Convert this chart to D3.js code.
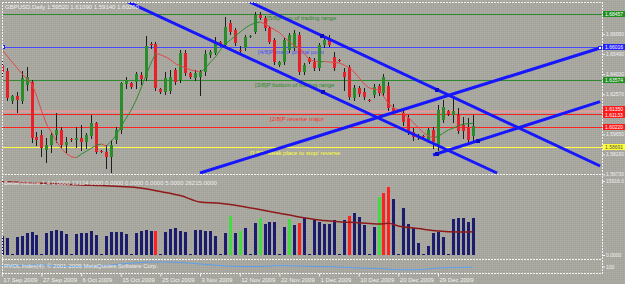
<!DOCTYPE html>
<html><head><meta charset="utf-8">
<script src="https://cdn.jsdelivr.net/npm/d3@7/dist/d3.min.js"></script>
<style>
html,body{margin:0;padding:0;background:#a8a8a0;overflow:hidden}
svg{display:block}
text{font-family:"Liberation Sans",Arial,sans-serif}
</style></head><body>
<svg id="chart" width="625" height="284"></svg>
<script>
// ---------------- data (GBPUSD Daily) ----------------
const opens=[1.6470,1.6427,1.6208,1.6244,1.6208,1.6325,1.6346,1.5946,1.5960,1.5851,
1.5887,1.5960,1.5997,1.5887,1.5931,1.5924,1.5938,1.5909,1.5953,1.6048,
1.5843,1.5836,1.5800,1.5924,1.5997,1.6332,1.6339,1.6346,1.6397,1.6376,
1.6623,1.6623,1.6295,1.6274,1.6281,1.6434,1.6361,1.6558,1.6412,1.6376,
1.6383,1.6419,1.6543,1.6558,1.6638,1.6616,1.6777,1.6726,1.6580,1.6594,
1.6682,1.6711,1.6835,1.6813,1.6740,1.6653,1.6470,1.6492,1.6580,1.6594,
1.6689,1.6419,1.6521,1.6492,1.6448,1.6616,1.6653,1.6529,1.6507,1.6419,
1.6456,1.6230,1.6303,1.6274,1.6215,1.6252,1.6317,1.6266,1.6317,1.6157,
1.6142,1.6120,1.6084,1.5982,1.5953,1.5953,1.5924,1.5997,1.5887,1.6069,
1.6135,1.6106,1.6106,1.6033,1.6018,1.5952];
const highs=[1.6507,1.6448,1.6252,1.6274,1.6427,1.6456,1.6361,1.5982,1.5997,1.5938,
1.5982,1.6120,1.6018,1.5946,1.5938,1.6018,1.6033,1.5975,1.6106,1.6055,
1.5851,1.5887,1.5924,1.6018,1.6346,1.6383,1.6346,1.6419,1.6419,1.6682,
1.6638,1.6638,1.6303,1.6419,1.6434,1.6448,1.6580,1.6580,1.6419,1.6434,
1.6434,1.6580,1.6580,1.6674,1.6645,1.6820,1.6798,1.6740,1.6609,1.6689,
1.6689,1.6857,1.6857,1.6828,1.6755,1.6667,1.6500,1.6667,1.6704,1.6726,
1.6711,1.6485,1.6529,1.6521,1.6631,1.6667,1.6689,1.6565,1.6514,1.6448,
1.6470,1.6325,1.6317,1.6303,1.6222,1.6332,1.6332,1.6405,1.6346,1.6186,
1.6150,1.6157,1.6106,1.6011,1.5967,1.5960,1.6011,1.6018,1.6179,1.6215,
1.6142,1.6237,1.6157,1.6091,1.6084,1.6109];
const lows=[1.6390,1.6215,1.6193,1.6128,1.6193,1.6288,1.5909,1.5887,1.5807,1.5763,
1.5836,1.5909,1.5865,1.5836,1.5916,1.5873,1.5851,1.5865,1.5938,1.5829,
1.5836,1.5720,1.5690,1.5902,1.5975,1.6303,1.6303,1.6303,1.6332,1.6361,
1.6594,1.6288,1.6266,1.6259,1.6266,1.6332,1.6346,1.6397,1.6376,1.6361,
1.6252,1.6397,1.6529,1.6551,1.6609,1.6602,1.6696,1.6616,1.6558,1.6580,
1.6674,1.6704,1.6806,1.6726,1.6631,1.6478,1.6463,1.6478,1.6565,1.6580,
1.6405,1.6405,1.6485,1.6434,1.6434,1.6602,1.6609,1.6434,1.6500,1.6288,
1.6222,1.6215,1.6244,1.6222,1.6208,1.6237,1.6252,1.6252,1.6142,1.6128,
1.6135,1.6033,1.5967,1.5924,1.5931,1.5938,1.5909,1.5865,1.5851,1.6055,
1.6106,1.6055,1.5975,1.5938,1.5909,1.5914];
const closes=[1.6419,1.6230,1.6244,1.6215,1.6376,1.6383,1.5938,1.5924,1.5865,1.5887,
1.5960,1.5997,1.5887,1.5909,1.5924,1.5938,1.5909,1.5960,1.6048,1.5836,
1.5840,1.5800,1.5887,1.5997,1.6339,1.6361,1.6310,1.6405,1.6368,1.6609,
1.6616,1.6303,1.6274,1.6376,1.6383,1.6346,1.6558,1.6412,1.6383,1.6412,
1.6419,1.6551,1.6565,1.6638,1.6616,1.6747,1.6711,1.6631,1.6577,1.6674,
1.6685,1.6835,1.6813,1.6740,1.6638,1.6492,1.6492,1.6653,1.6689,1.6704,
1.6419,1.6470,1.6492,1.6448,1.6616,1.6653,1.6616,1.6448,1.6505,1.6383,
1.6237,1.6303,1.6259,1.6237,1.6213,1.6310,1.6266,1.6383,1.6157,1.6135,
1.6140,1.6055,1.5982,1.5946,1.5946,1.5950,1.5997,1.5909,1.6142,1.6164,
1.6113,1.6135,1.5989,1.5989,1.5924,1.6026];
// colour-coded moving average on price
const maValues=[1.6580,1.6536,1.6492,1.6448,1.6405,1.6368,1.6332,1.6237,1.6128,1.6033,
1.5975,1.5909,1.5858,1.5822,1.5800,1.5796,1.5822,1.5843,1.5865,1.5887,
1.5894,1.5880,1.5916,1.5960,1.6026,1.6084,1.6142,1.6215,1.6303,1.6397,
1.6485,1.6558,1.6543,1.6529,1.6507,1.6478,1.6463,1.6448,1.6434,1.6427,
1.6419,1.6448,1.6492,1.6529,1.6580,1.6623,1.6653,1.6682,1.6711,1.6740,
1.6762,1.6777,1.6784,1.6769,1.6747,1.6726,1.6704,1.6667,1.6638,1.6609,
1.6594,1.6551,1.6507,1.6500,1.6492,1.6496,1.6492,1.6489,1.6485,1.6470,
1.6448,1.6419,1.6376,1.6332,1.6303,1.6295,1.6288,1.6237,1.6186,1.6157,
1.6142,1.6113,1.6084,1.6048,1.6011,1.5975,1.5953,1.5938,1.5953,1.5975,
1.5997,1.6011,1.6026,1.6040,1.6043,1.6045];
// volume
const volumes=[4150,3720,200,3935,4085,4795,4880,4300,300,4665,
5160,5375,5160,4515,200,4515,4795,4795,5225,4300,
200,4085,5010,5010,5010,4515,200,4665,5095,5440,
5095,5095,200,5010,5525,5740,5160,4880,200,5440,
5375,5160,5160,4085,200,4795,8385,4665,5160,5800,
200,6945,8020,6665,7030,7160,200,5955,7675,6450,
6815,7890,200,7525,7160,6665,6665,7525,200,7525,
8385,9095,8235,6450,200,5955,12535,13265,14685,11975,
200,10040,6600,5740,2645,200,2000,4665,5010,3935,
200,7740,7890,7890,7160,7890];
const volGreenBars=[46,48,52,58,76];
const volRedBars=[31,60,70,77,78];
const volMaIdx=[0,4,8,12,16,20,24,28,32,36,40,44,48,52,56,60,64,68,72,76,78,80,84,88,92,95];
const volMaValues=[15765,15593,15421,15271,15056,14948,14733,14410,13658,12797,11399,11120,10539,9786,8969,8173,7528,7162,6947,6667,6818,6237,5700,5162,4947,5011];
// lower sub-window indicator
const subIdx=[0,4,8,12,16,20,24,28,32,36,40,44,48,52,56,60,64,68,72,76,80,84,88,92,95];
const subValues=[101.8,103.6,105.5,100,100,101.8,109.1,114.5,116.4,114.5,109.1,103.6,100,100,103.6,101.8,100,98.2,94.5,92.7,88.4,88.4,94.5,96.4,97.1];
// time axis
const dateIdx=[0,8,16,24,32,40,48,56,64,72,80,88];
const dateLabels=["17 Sep 2009","27 Sep 2009","6 Oct 2009","15 Oct 2009","25 Oct 2009","3 Nov 2009","12 Nov 2009","22 Nov 2009","1 Dec 2009","10 Dec 2009","20 Dec 2009","29 Dec 2009"];
// price axis ticks
const priceTicks=[1.6695,1.6549,1.6403,1.6257,1.6111,1.5965,1.5819,1.5673];
// Murrey math levels
const mmValues=[1.68457,1.66016,1.63574,1.61133,1.58691];
const mmKinds=["green","blue","green","red","yellow"];
const mmTexts=["[5/8]P top of trading range","[4/8]P major pivotal point","[3/8]P bottom of trading range","[2/8]P reverse major","[1/8]P weak place to stop/ reverse"];
const mmTextIdx=[53.5,51.7,51.1,54.1,50.1];
const mmTextPrice=[1.6798,1.6551,1.6310,1.6062,1.5814];
// other horizontal lines
const extraValues=[1.6135,1.6022];
const extraKinds=["pink","red"];
// trend lines (bar index, price)
const trendIdx1=[25.46,50.07,39.98,87.0];
const trendP1=[1.6930,1.6930,1.5683,1.5814];
const trendIdx2=[99.9,120.7,120.7,120.7];
const trendP2=[1.5683,1.5734,1.6594,1.6203];
const markIdx=[64.6,64.8,87.8,87.8,96.1];
const markP=[1.6683,1.6271,1.6290,1.5824,1.5919];
const anchorIdx=[0.24,120.7];
const anchorP=[1.66016,1.6594];
const titleText="GBPUSD,Daily  1.59520 1.61090 1.59140 1.60260";
const volTitle="BetterVolume 1.4  0.0000 13124.0000 0.0000 0.0000 0.0000 5.0000 26215.0000";
const subTitle="RVOL Index(4): \u00a9 2001-2009 MetaQuotes Software Corp.";

// ---------------- styles ----------------
const ST={
  green:{line:"#2e8b2e",w:1,box:"#1f8f1f",txt:"#ffffff",note:"#2a8a2a"},
  blue:{line:"#4646ff",w:1,box:"#2222ff",txt:"#ffffff",note:"#4848ff"},
  red:{line:"#ff2020",w:1,box:"#ff1a1a",txt:"#ffffff",note:"#ff2a2a"},
  pink:{line:"#e49a9a",w:2,box:"#ff1a1a",txt:"#ffffff"},
  yellow:{line:"#ffff40",w:1,box:"#ffff33",txt:"#555555",note:"#ffff33"}
};
const FONT='"Liberation Sans",Arial,sans-serif';
const AXF=5;

const svg=d3.select("#chart");
const x=d3.scaleLinear().domain([0,120]).range([1.8,1.8+4.957*120]);
const y=d3.scaleLinear().domain([1.56685,1.69442]).range([175,0]);
const yv=d3.scaleLinear().domain([0,15916]).range([255,181]);
const ys=d3.scaleLinear().domain([80,120]).range([272,261]);
const px=i=>Math.round(x(i));
const py=v=>Math.round(y(v))+0.5;

const defs=svg.append("defs");
// dithered grey background like the screenshot
const pat=defs.append("pattern").attr("id","dither").attr("width",2).attr("height",2).attr("patternUnits","userSpaceOnUse");
pat.append("rect").attr("width",2).attr("height",2).attr("fill","#a7a79f");
pat.append("rect").attr("x",0).attr("y",0).attr("width",1).attr("height",1).attr("fill","#aeaea6");
pat.append("rect").attr("x",1).attr("y",1).attr("width",1).attr("height",1).attr("fill","#a2a29a");
svg.append("rect").attr("width",625).attr("height",284).attr("fill","url(#dither)");

defs.append("clipPath").attr("id","cMain").append("rect").attr("x",2).attr("y",2).attr("width",600).attr("height",172.5);
defs.append("clipPath").attr("id","cVol").append("rect").attr("x",2).attr("y",175).attr("width",600).attr("height",84);
defs.append("clipPath").attr("id","cSub").append("rect").attr("x",2).attr("y",260).attr("width",600).attr("height",13);

const main=svg.append("g").attr("clip-path","url(#cMain)");

// horizontal lines
extraValues.forEach((v,k)=>{
  const s=ST[extraKinds[k]];
  main.append("line").attr("x1",2).attr("x2",602).attr("y1",py(v)).attr("y2",py(v)).attr("stroke",s.line).attr("stroke-width",s.w);
});
mmValues.forEach((v,k)=>{
  const s=ST[mmKinds[k]];
  main.append("line").attr("x1",2).attr("x2",602).attr("y1",py(v)).attr("y2",py(v)).attr("stroke",s.line).attr("stroke-width",s.w);
});
// level texts
mmTexts.forEach((t,k)=>{
  main.append("text").attr("x",x(mmTextIdx[k])).attr("y",y(mmTextPrice[k])).attr("fill",ST[mmKinds[k]].note)
    .attr("font-size",6).attr("font-family",FONT).text(t);
});

// candles
const idx=d3.range(opens.length);
const cg=main.append("g").attr("shape-rendering","crispEdges");
cg.selectAll("line.w").data(idx).join("line").attr("class","w")
  .attr("x1",i=>px(i)+0.5).attr("x2",i=>px(i)+0.5)
  .attr("y1",i=>Math.round(y(highs[i]))).attr("y2",i=>Math.round(y(lows[i]))+1)
  .attr("stroke","#1e1e1e").attr("stroke-width",1);
cg.selectAll("rect.b").data(idx).join("rect").attr("class","b")
  .attr("x",i=>px(i)-1).attr("width",3)
  .attr("y",i=>Math.round(y(Math.max(opens[i],closes[i]))))
  .attr("height",i=>Math.max(1,Math.round(y(Math.min(opens[i],closes[i])))-Math.round(y(Math.max(opens[i],closes[i])))))
  .attr("fill",i=>closes[i]>=opens[i]?"#2a8c2a":"#e8202a");

// colour-coded MA
const mg=main.append("g");
mg.selectAll("line").data(idx.slice(1)).join("line")
  .attr("x1",i=>x(i-1)+0.5).attr("y1",i=>y(maValues[i-1]))
  .attr("x2",i=>x(i)+0.5).attr("y2",i=>y(maValues[i]))
  .attr("stroke",i=>maValues[i]>=maValues[i-1]?"#2e8a2e":"#e04848").attr("stroke-width",1);

// trend lines
const tg=main.append("g");
trendIdx1.forEach((s,k)=>{
  tg.append("line").attr("x1",x(s)).attr("y1",y(trendP1[k])).attr("x2",x(trendIdx2[k])).attr("y2",y(trendP2[k]))
    .attr("stroke","#1616ff").attr("stroke-width",3);
});
markIdx.forEach((m,k)=>{
  tg.append("rect").attr("x",Math.round(x(m))-2).attr("y",Math.round(y(markP[k]))-2).attr("width",4).attr("height",4).attr("fill","#0b0bc0");
});
anchorIdx.forEach((m,k)=>{
  tg.append("rect").attr("x",Math.round(x(m))-1.5).attr("y",Math.round(y(anchorP[k]))-1.5).attr("width",3).attr("height",3)
    .attr("fill","#ffffff").attr("stroke","#2020ff").attr("stroke-width",1);
});

// title
svg.append("text").attr("x",5).attr("y",9).attr("fill","#f2f2f2").attr("font-size",6).attr("font-family",FONT).text(titleText);

// price axis
const ax=svg.append("g").attr("transform","translate(602,0)")
  .call(d3.axisRight(y).tickValues(priceTicks).tickFormat(d3.format(".5f")).tickSize(3).tickPadding(1));
ax.select(".domain").remove();
ax.attr("font-size",AXF).attr("font-family",FONT);
ax.selectAll("line").attr("stroke","#f0f0f0");
ax.selectAll("text").attr("fill","#f2f2f2");

// level boxes on the axis
const boxVals=extraValues.concat(mmValues), boxKinds=extraKinds.concat(mmKinds);
const boxShift=[-2,0,0,0,0,1,0];
boxVals.forEach((v,k)=>{
  const s=ST[boxKinds[k]];
  const yy=Math.round(y(v))+boxShift[k];
  svg.append("rect").attr("x",603).attr("y",yy-3).attr("width",22).attr("height",6).attr("fill",s.box);
  svg.append("text").attr("x",605).attr("y",yy+1.8).attr("fill",s.txt).attr("font-size",AXF).attr("font-family",FONT).text(d3.format(".5f")(v));
});

// ---------------- volume window ----------------
const vg=svg.append("g").attr("clip-path","url(#cVol)").attr("shape-rendering","crispEdges");
const volColor=i=>volGreenBars.includes(i)?"#40dc40":(volRedBars.includes(i)?"#ff2020":"#1c1c6e");
vg.selectAll("rect").data(idx).join("rect")
  .attr("x",i=>px(i)-1).attr("width",3)
  .attr("y",i=>Math.round(yv(volumes[i])))
  .attr("height",i=>Math.max(1,255-Math.round(yv(volumes[i]))))
  .attr("fill",volColor);
svg.append("g").attr("clip-path","url(#cVol)").append("path")
  .attr("d",d3.line().x((d,k)=>x(volMaIdx[k])).y(d=>yv(d)).curve(d3.curveMonotoneX)(volMaValues))
  .attr("fill","none").attr("stroke","#8e1a1a").attr("stroke-width",1.5);
svg.append("text").attr("x",4).attr("y",185).attr("fill","#eeeeee").attr("font-size",6).attr("font-family",FONT).text(volTitle);
const vax=svg.append("g").attr("transform","translate(602,0)")
  .call(d3.axisRight(yv).tickValues([0,15916]).tickFormat(d=>d?d.toFixed(1):d.toFixed(4)).tickSize(3).tickPadding(1));
vax.select(".domain").remove();
vax.attr("font-size",AXF).attr("font-family",FONT);
vax.selectAll("line").attr("stroke","#f0f0f0");
vax.selectAll("text").attr("fill","#f2f2f2");

// ---------------- sub window ----------------
svg.append("g").attr("clip-path","url(#cSub)").append("path")
  .attr("d",d3.line().x((d,k)=>x(subIdx[k])).y(d=>ys(d)).curve(d3.curveMonotoneX)(subValues))
  .attr("fill","none").attr("stroke","#5aa0f0").attr("stroke-width",1);
svg.append("text").attr("x",4).attr("y",268).attr("fill","#eeeeee").attr("font-size",6).attr("font-family",FONT).text(subTitle);
const sax=svg.append("g").attr("transform","translate(602,0)")
  .call(d3.axisRight(ys).tickValues([100]).tickFormat(d3.format("d")).tickSize(3).tickPadding(1));
sax.select(".domain").remove();
sax.attr("font-size",AXF).attr("font-family",FONT);
sax.selectAll("line").attr("stroke","#f0f0f0");
sax.selectAll("text").attr("fill","#f2f2f2");

// ---------------- date axis ----------------
const dax=svg.append("g").attr("transform","translate(0,273.5)")
  .call(d3.axisBottom(x).tickValues(dateIdx).tickFormat((d,k)=>dateLabels[k]).tickSize(3).tickPadding(1));
dax.select(".domain").remove();
dax.attr("font-size",6).attr("font-family",FONT);
dax.selectAll("line").attr("stroke","#f0f0f0");
dax.selectAll("text").attr("fill","#f2f2f2").attr("text-anchor","start").attr("dx",1);

// ---------------- borders ----------------
const bg=svg.append("g").attr("stroke","#f4f4f4").attr("stroke-width",1).attr("stroke-dasharray","2,1").attr("shape-rendering","crispEdges");
[2.5,174.5,259.5,273.5].forEach(v=>bg.append("line").attr("x1",2).attr("x2",602).attr("y1",v).attr("y2",v));
[2.5,602.5].forEach(v=>bg.append("line").attr("x1",v).attr("x2",v).attr("y1",2).attr("y2",274));
</script></body></html>
